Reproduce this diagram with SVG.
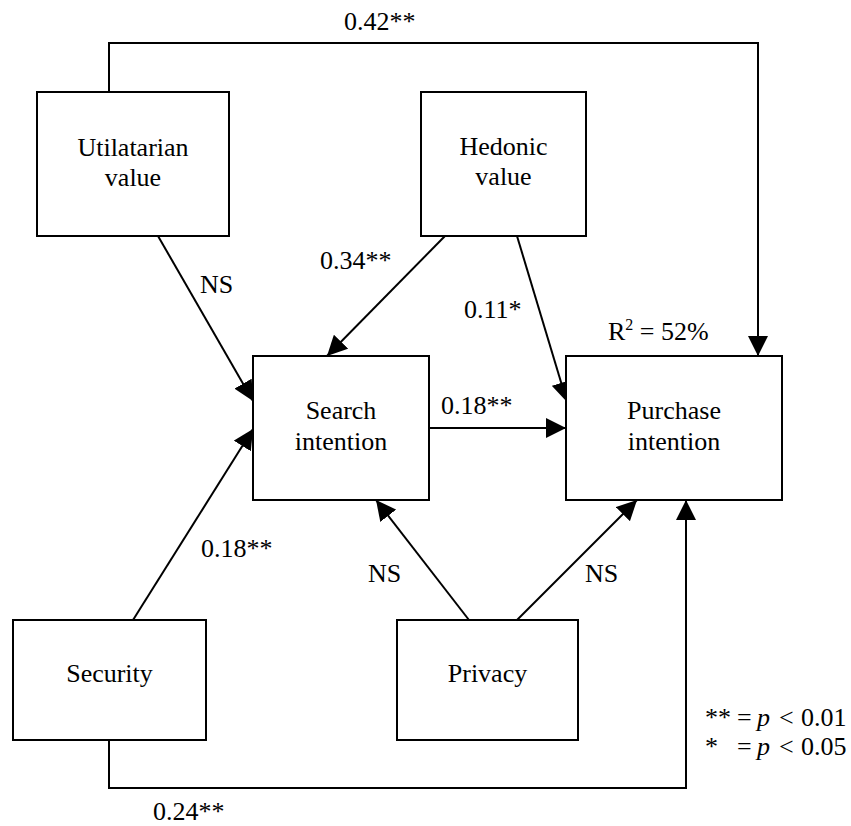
<svg xmlns="http://www.w3.org/2000/svg" width="851" height="826" viewBox="0 0 851 826">
<style>
  .box { fill: #fff; stroke: #000; stroke-width: 2; }
  .edge { fill: none; stroke: #000; stroke-width: 2; }
  text { font-family: "Liberation Serif", "Times New Roman", serif; font-size: 26px; fill: #000; }
  .ctr { text-anchor: middle; }
</style>
<defs>
  <marker id="arr" markerUnits="userSpaceOnUse" markerWidth="20" markerHeight="20" viewBox="0 0 20 20" refX="20" refY="10" orient="auto">
    <path d="M0,0 L20,10 L0,20 z" fill="#000"/>
  </marker>
</defs>
<rect width="851" height="826" fill="#fff"/>
<g id="connectors">
  <polyline class="edge" points="109,92 109,43 758,43 758,356" marker-end="url(#arr)"/>
  <line class="edge" x1="158" y1="236" x2="253" y2="401" marker-end="url(#arr)"/>
  <line class="edge" x1="445" y1="236" x2="327" y2="356" marker-end="url(#arr)"/>
  <line class="edge" x1="517" y1="236" x2="567" y2="402" marker-end="url(#arr)"/>
  <line class="edge" x1="421" y1="428" x2="566" y2="428" marker-end="url(#arr)"/>
  <line class="edge" x1="133" y1="620" x2="253" y2="429" marker-end="url(#arr)"/>
  <line class="edge" x1="469" y1="620" x2="376" y2="500" marker-end="url(#arr)"/>
  <line class="edge" x1="517" y1="620" x2="637" y2="500" marker-end="url(#arr)"/>
  <polyline class="edge" points="109,740 109,788 686,788 686,500" marker-end="url(#arr)"/>
</g>
<g id="utilitarian">
  <rect class="box" x="37" y="92" width="192" height="144"/>
  <text class="ctr" x="133" y="156">Utilatarian</text>
  <text class="ctr" x="133" y="186">value</text>
</g>
<g id="hedonic">
  <rect class="box" x="421" y="92" width="165" height="144"/>
  <text class="ctr" x="503.5" y="155">Hedonic</text>
  <text class="ctr" x="503.5" y="185">value</text>
</g>
<g id="search">
  <rect class="box" x="253" y="356" width="176" height="144"/>
  <text class="ctr" x="341" y="419">Search</text>
  <text class="ctr" x="341" y="450">intention</text>
</g>
<g id="purchase">
  <rect class="box" x="566" y="356" width="216" height="144"/>
  <text class="ctr" x="674" y="419">Purchase</text>
  <text class="ctr" x="674" y="450">intention</text>
</g>
<g id="security">
  <rect class="box" x="13" y="620" width="193" height="120"/>
  <text class="ctr" x="109.5" y="682">Security</text>
</g>
<g id="privacy">
  <rect class="box" x="397" y="620" width="181" height="120"/>
  <text class="ctr" x="487.5" y="682">Privacy</text>
</g>
<g id="labels">
  <text x="344" y="30">0.42**</text>
  <text x="200" y="293">NS</text>
  <text x="320" y="269">0.34**</text>
  <text x="464" y="318">0.11*</text>
  <text x="608" y="340">R<tspan font-size="16" dy="-10">2</tspan><tspan dy="10"> = 52%</tspan></text>
  <text x="441" y="414">0.18**</text>
  <text x="201" y="557">0.18**</text>
  <text x="368" y="582">NS</text>
  <text x="585" y="582">NS</text>
  <text x="153" y="820">0.24**</text>
  <text y="726"><tspan x="705">**</tspan><tspan x="737">=</tspan><tspan x="757" font-style="italic">p</tspan><tspan x="779">&lt;</tspan><tspan x="801">0.01</tspan></text>
  <text y="755"><tspan x="705">*</tspan><tspan x="737">=</tspan><tspan x="757" font-style="italic">p</tspan><tspan x="779">&lt;</tspan><tspan x="801">0.05</tspan></text>
</g>
</svg>
